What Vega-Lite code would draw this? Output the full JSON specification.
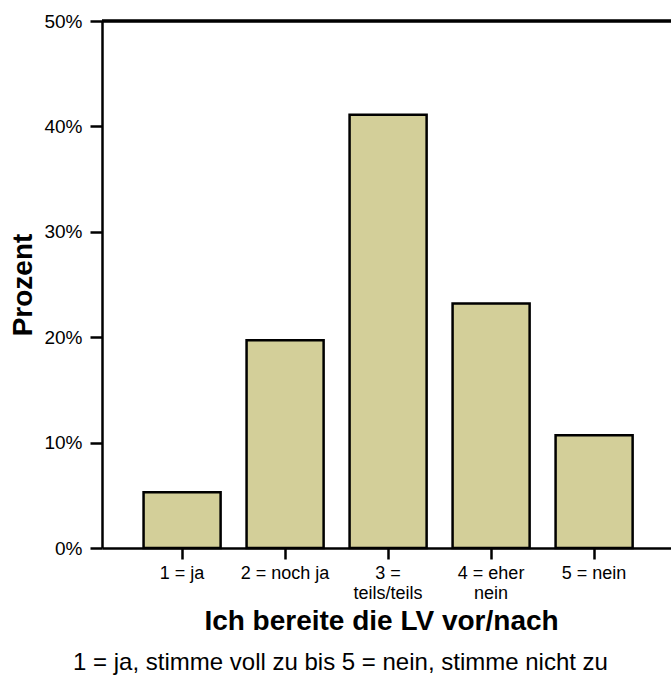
{
  "$schema": "https://vega.github.io/schema/vega-lite/v6.json",
  "width": 569,
  "height": 527,
  "autosize": "none",
  "padding": {"left": 102, "top": 21, "right": 0, "bottom": 132},
  "background": "white",
  "config": {"view": {"stroke": null}, "font": "Liberation Sans"},
  "title": {
    "text": "1 = ja, stimme voll zu bis 5 = nein, stimme nicht zu",
    "orient": "bottom",
    "anchor": "middle",
    "fontSize": 24,
    "fontWeight": "normal",
    "color": "black",
    "offset": 16,
    "dx": -46
  },
  "data": {
    "values": [
      {"antwort": "1 = ja", "anteil": 0.053},
      {"antwort": "2 = noch ja", "anteil": 0.197},
      {"antwort": "3 = teils/teils", "anteil": 0.411},
      {"antwort": "4 = eher nein", "anteil": 0.232},
      {"antwort": "5 = nein", "anteil": 0.107}
    ]
  },
  "layer": [
    {
      "mark": {"type": "bar", "fill": "#d3cf99", "stroke": "black", "strokeWidth": 2.5},
      "encoding": {
        "x": {
          "field": "antwort",
          "type": "nominal",
          "sort": null,
          "scale": {"paddingInner": 0.252, "paddingOuter": 0.388, "align": 0.52},
          "axis": {
            "title": "Ich bereite die LV vor/nach",
            "titleFontSize": 28,
            "titleFontWeight": "bold",
            "titleColor": "black",
            "titlePadding": 5,
            "titleX": 279,
            "labelAngle": 0,
            "labelFontSize": 18,
            "labelLineHeight": 20,
            "labelColor": "black",
            "labelPadding": 5,
            "labelExpr": "datum.value == '3 = teils/teils' ? ['3 =', 'teils/teils'] : datum.value == '4 = eher nein' ? ['4 = eher', 'nein'] : datum.value",
            "tickSize": 11,
            "tickWidth": 2.5,
            "tickColor": "black",
            "domainColor": "black",
            "domainWidth": 2.5
          }
        },
        "y": {
          "field": "anteil",
          "type": "quantitative",
          "scale": {"domain": [0, 0.5], "nice": false},
          "axis": {
            "title": "Prozent",
            "titleFontSize": 28,
            "titleFontWeight": "bold",
            "titleColor": "black",
            "titlePadding": 6,
            "values": [0, 0.1, 0.2, 0.3, 0.4, 0.5],
            "format": ".0%",
            "grid": false,
            "labelFontSize": 19,
            "labelColor": "black",
            "labelPadding": 8,
            "tickSize": 12,
            "tickWidth": 2.5,
            "tickColor": "black",
            "domainColor": "black",
            "domainWidth": 2.5
          }
        }
      }
    },
    {
      "mark": {"type": "rule", "color": "black", "strokeWidth": 2.5},
      "encoding": {"y": {"datum": 0.5}}
    }
  ]
}
